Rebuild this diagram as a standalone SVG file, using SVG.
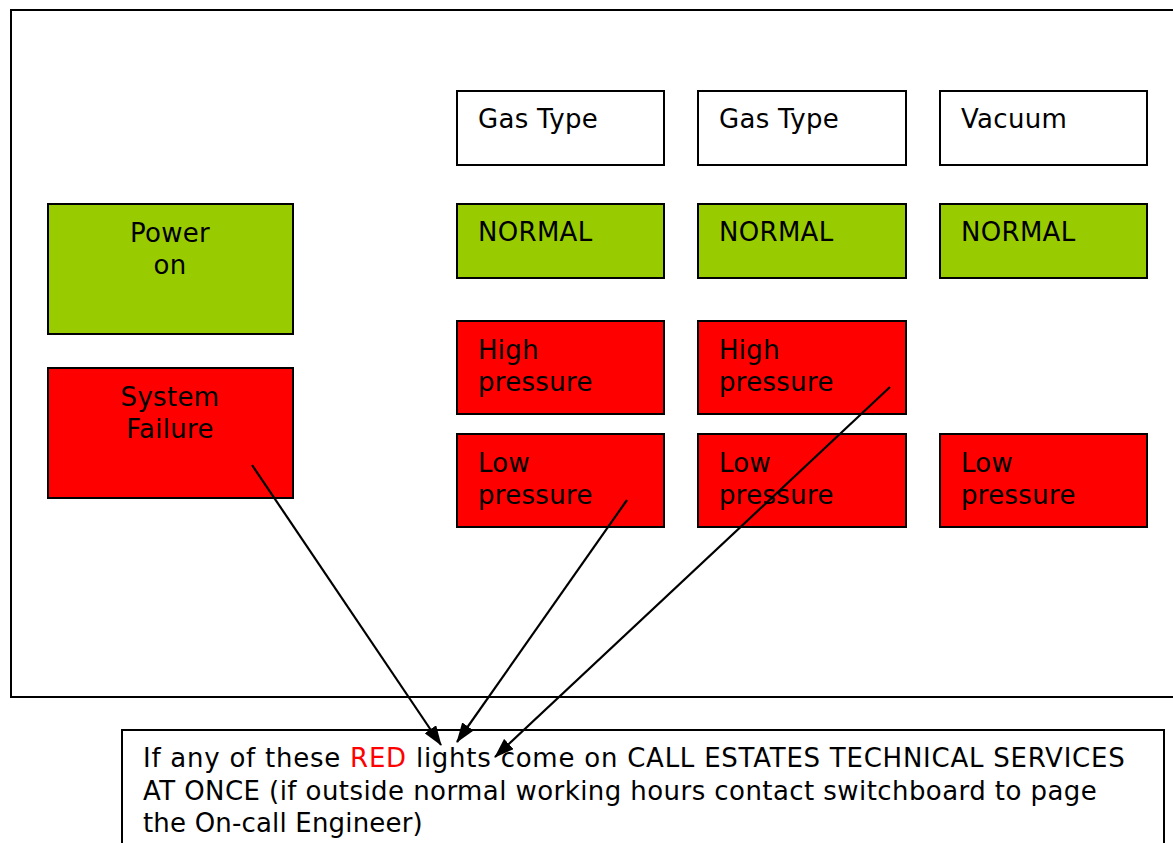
<svg xmlns="http://www.w3.org/2000/svg" width="1173" height="843" viewBox="0 0 1173 843">
<defs>
<style>
.t{font-family:"DejaVu Sans",Verdana,sans-serif;font-size:26px;letter-spacing:0.3px;fill:#000}
.b{stroke:#000;stroke-width:2}
.g{fill:#99cc00}
.r{fill:#ff0000}
.w{fill:#fff}
.c{stroke:#000;stroke-width:2.2;fill:none;marker-end:url(#ah)}
</style>
<marker id="ah" viewBox="0 0 20 14" refX="19" refY="7" markerWidth="20" markerHeight="14" markerUnits="userSpaceOnUse" orient="auto">
<path d="M0,0 L20,7 L0,14 z" fill="#000"/>
</marker>
</defs>
<rect width="1173" height="843" fill="#fff"/>
<rect id="frame" x="11" y="10" width="1180" height="687" fill="none" stroke="#000" stroke-width="2"/>
<g id="power"><rect class="b g" x="48" y="204" width="245" height="130"/><text class="t" x="170" y="242" text-anchor="middle">Power</text><text class="t" x="170" y="274" text-anchor="middle">on</text></g>
<g id="failure"><rect class="b r" x="48" y="368" width="245" height="130"/><text class="t" x="170" y="406" text-anchor="middle">System</text><text class="t" x="170" y="438" text-anchor="middle">Failure</text></g>
<g id="gas1"><rect class="b w" x="457" y="91" width="207" height="74"/><text class="t" x="478" y="128">Gas Type</text></g>
<g id="gas2"><rect class="b w" x="698" y="91" width="208" height="74"/><text class="t" x="719" y="128">Gas Type</text></g>
<g id="vac"><rect class="b w" x="940" y="91" width="207" height="74"/><text class="t" x="961" y="128">Vacuum</text></g>
<g id="n1"><rect class="b g" x="457" y="204" width="207" height="74"/><text class="t" x="478" y="241">NORMAL</text></g>
<g id="n2"><rect class="b g" x="698" y="204" width="208" height="74"/><text class="t" x="719" y="241">NORMAL</text></g>
<g id="n3"><rect class="b g" x="940" y="204" width="207" height="74"/><text class="t" x="961" y="241">NORMAL</text></g>
<g id="h1"><rect class="b r" x="457" y="321" width="207" height="93"/><text class="t" x="478" y="359">High</text><text class="t" x="478" y="391">pressure</text></g>
<g id="h2"><rect class="b r" x="698" y="321" width="208" height="93"/><text class="t" x="719" y="359">High</text><text class="t" x="719" y="391">pressure</text></g>
<g id="l1"><rect class="b r" x="457" y="434" width="207" height="93"/><text class="t" x="478" y="472">Low</text><text class="t" x="478" y="504">pressure</text></g>
<g id="l2"><rect class="b r" x="698" y="434" width="208" height="93"/><text class="t" x="719" y="472">Low</text><text class="t" x="719" y="504">pressure</text></g>
<g id="l3"><rect class="b r" x="940" y="434" width="207" height="93"/><text class="t" x="961" y="472">Low</text><text class="t" x="961" y="504">pressure</text></g>
<g id="note"><rect x="122" y="730" width="1042" height="130" fill="#fff" stroke="#000" stroke-width="2"/>
<text class="t" x="143" y="767" textLength="982" lengthAdjust="spacing">If any of these <tspan fill="#ff0000">RED</tspan> lights come on CALL ESTATES TECHNICAL SERVICES</text>
<text class="t" x="143" y="800" textLength="954" lengthAdjust="spacing">AT ONCE (if outside normal working hours contact switchboard to page</text>
<text class="t" x="143" y="832" textLength="280" lengthAdjust="spacing">the On-call Engineer)</text></g>
<g id="connectors">
<line class="c" x1="252" y1="465" x2="441" y2="745"/>
<line class="c" x1="627" y1="500" x2="457" y2="742"/>
<line class="c" x1="890" y1="387" x2="495" y2="757"/>
</g>
</svg>
